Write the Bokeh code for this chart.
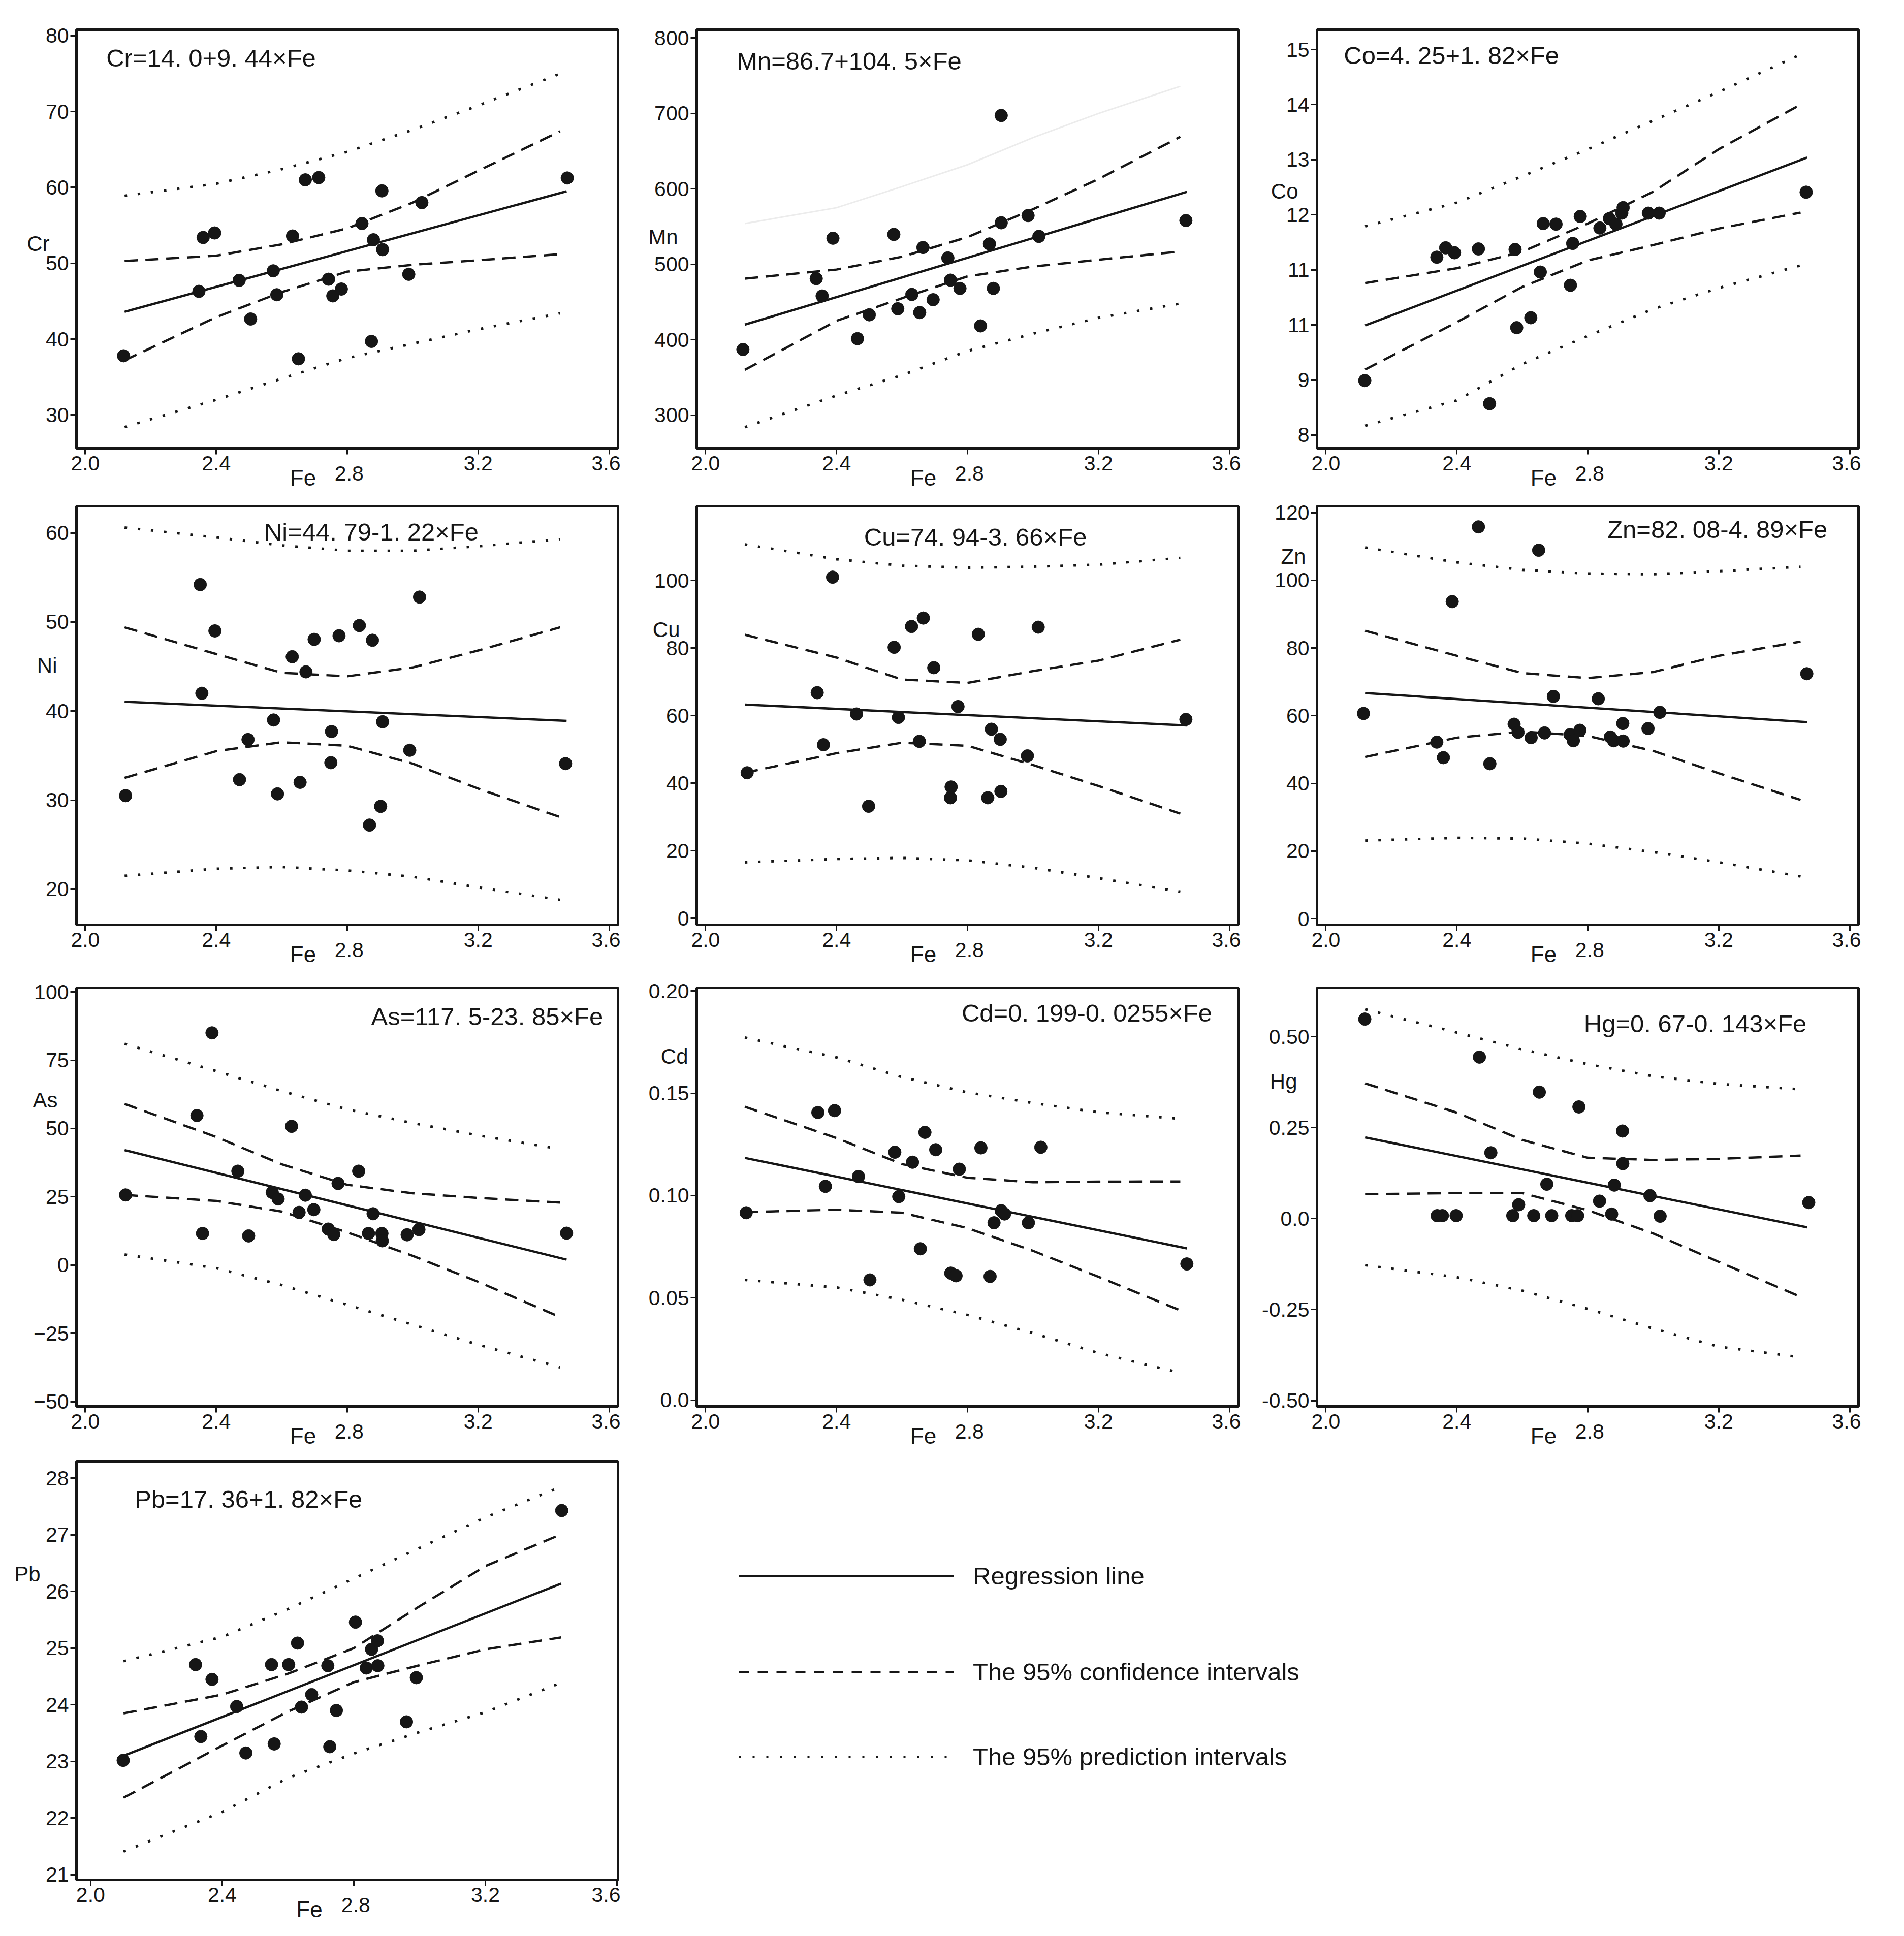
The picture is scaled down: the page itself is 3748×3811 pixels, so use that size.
from bokeh.plotting import figure
from bokeh.layouts import column, row
from bokeh.models import Range1d, FixedTicker, Legend, LegendItem, LinearAxis, Label
from bokeh.embed import file_html
from bokeh.resources import INLINE

FONT = "Liberation Sans"
INK = "#161616"
NAN = float("nan")

# ---------------- data ----------------
CURVE_FE = [2.12, 2.40, 2.60, 2.80, 3.00, 3.20, 3.45]
REG_FE = [2.12, 3.47]
PB_CURVE_FE = [2.10, 2.40, 2.60, 2.80, 3.00, 3.20, 3.43]
PB_REG_FE = [2.10, 3.43]
X_TICKS = [2.0, 2.4, 2.8, 3.2, 3.6]

FE_CR = [2.117, 2.347, 2.360, 2.395, 2.470, 2.505, 2.574, 2.585, 2.633, 2.651, 2.672, 2.713,
         2.743, 2.756, 2.782, 2.845, 2.874, 2.880, 2.906, 2.908, 2.988, 3.028, 3.472]
CR = [37.8, 46.3, 53.4, 54.0, 47.75, 42.65, 49.0, 45.85, 53.6, 37.4, 61.0, 61.3,
      47.9, 45.7, 46.6, 55.25, 39.7, 53.1, 59.55, 51.8, 48.55, 58.0, 61.25]
CR_REG = [43.6, 59.5]
CR_CI_UP = [50.3, 51.0, 52.5, 54.6, 58.0, 62.2, 67.4]
CR_CI_LO = [37.2, 42.9, 46.2, 48.9, 49.8, 50.4, 51.2]
CR_PI_UP = [58.9, 60.5, 62.4, 64.7, 67.6, 70.8, 75.0]
CR_PI_LO = [28.4, 32.0, 34.8, 37.5, 39.4, 41.3, 43.4]

FE_MN = [2.114, 2.338, 2.356, 2.389, 2.464, 2.500, 2.575, 2.587, 2.630, 2.654, 2.664, 2.695,
         2.740, 2.748, 2.777, 2.840, 2.867, 2.879, 2.903, 2.903, 2.985, 3.018, 3.467]
MN = [387, 481, 458, 534.6, 401.4, 433, 539.6, 441, 460, 436, 522.3, 453,
      508.4, 479, 468, 418.3, 527, 468, 697.3, 555, 564.6, 537, 558]
MN_REG = [420, 596]
MN_CI_UP = [481, 493, 510, 536, 573, 613, 669]
MN_CI_LO = [360, 425, 455, 484, 497, 506, 517]
MN_PI_UP = [554, 575, 603, 632, 668, 700, 736]
MN_PI_LO = [284, 326, 353, 385, 408, 429, 448]

FE_CO = [2.119, 2.339, 2.366, 2.393, 2.466, 2.500, 2.578, 2.583, 2.626, 2.655, 2.664, 2.703,
         2.747, 2.754, 2.777, 2.837, 2.866, 2.886, 2.904, 2.908, 2.985, 3.018, 3.467]
CO = [8.99, 11.23, 11.40, 11.31, 11.38, 8.57, 11.37, 9.95, 10.13, 10.96, 11.84, 11.83,
      10.72, 11.48, 11.97, 11.76, 11.93, 11.83, 12.03, 12.13, 12.03, 12.03, 12.41]
CO_REG = [9.99, 13.04]
CO_CI_UP = [10.76, 11.03, 11.33, 11.84, 12.42, 13.19, 14.0]
CO_CI_LO = [9.19, 10.05, 10.69, 11.17, 11.45, 11.75, 12.04]
CO_PI_UP = [11.79, 12.22, 12.70, 13.19, 13.71, 14.23, 14.91]
CO_PI_LO = [8.17, 8.63, 9.29, 9.80, 10.29, 10.67, 11.08]

FE_NI = [2.123, 2.351, 2.356, 2.396, 2.471, 2.497, 2.575, 2.587, 2.632, 2.656, 2.674, 2.699,
         2.752, 2.750, 2.775, 2.837, 2.868, 2.877, 2.902, 2.908, 2.991, 3.021, 3.467]
NI = [30.5, 54.2, 42.0, 49.0, 32.3, 36.8, 39.0, 30.7, 46.1, 32.0, 44.4, 48.05,
      37.7, 34.2, 48.45, 49.6, 27.2, 47.95, 29.3, 38.8, 35.6, 52.8, 34.1]
NI_REG = [41.05, 38.9]
NI_CI_UP = [49.4, 46.4, 44.3, 43.9, 44.9, 46.8, 49.4]
NI_CI_LO = [32.5, 35.5, 36.5, 36.1, 34.1, 31.3, 28.1]
NI_PI_UP = [60.6, 59.5, 58.6, 58.0, 58.0, 58.5, 59.3]
NI_PI_LO = [21.5, 22.3, 22.5, 22.1, 21.4, 20.2, 18.8]

FE_CU = [2.127, 2.341, 2.360, 2.388, 2.461, 2.498, 2.576, 2.589, 2.629, 2.653, 2.665, 2.697,
         2.748, 2.750, 2.771, 2.833, 2.862, 2.873, 2.900, 2.902, 2.983, 3.016, 3.467]
CU = [43.1, 66.8, 51.4, 101.0, 60.5, 33.2, 80.25, 59.5, 86.4, 52.4, 88.9, 74.2,
      35.7, 38.9, 62.7, 84.1, 35.7, 56.0, 53.0, 37.6, 48.1, 86.2, 58.9]
CU_REG = [63.3, 57.1]
CU_CI_UP = [83.95, 77.2, 70.7, 69.7, 73.2, 76.3, 82.5]
CU_CI_LO = [43.1, 48.9, 52.0, 51.1, 45.4, 39.2, 31.0]
CU_PI_UP = [110.7, 106.3, 104.4, 103.8, 104.1, 104.7, 106.7]
CU_PI_LO = [16.6, 17.6, 17.9, 17.2, 15.0, 11.9, 7.9]

FE_ZN = [2.115, 2.339, 2.359, 2.386, 2.466, 2.501, 2.575, 2.587, 2.627, 2.650, 2.668, 2.695,
         2.746, 2.756, 2.776, 2.832, 2.869, 2.879, 2.907, 2.908, 2.984, 3.020, 3.469]
ZN = [60.65, 52.2, 47.6, 93.7, 115.8, 45.8, 57.5, 55.1, 53.5, 108.9, 54.9, 65.7,
      54.4, 52.6, 55.7, 65.0, 53.7, 52.6, 57.7, 52.5, 56.2, 61.0, 72.4]
ZN_REG = [66.7, 58.1]
ZN_CI_UP = [85.1, 77.7, 72.6, 71.1, 72.9, 77.7, 81.9]
ZN_CI_LO = [47.8, 53.5, 55.3, 54.0, 49.6, 43.0, 35.1]
ZN_PI_UP = [109.7, 105.3, 103.1, 102.0, 101.8, 102.7, 104.0]
ZN_PI_LO = [23.1, 23.9, 23.7, 22.2, 19.7, 16.7, 12.5]

FE_AS = [2.123, 2.341, 2.358, 2.387, 2.466, 2.499, 2.571, 2.589, 2.630, 2.653, 2.672, 2.698,
         2.742, 2.759, 2.772, 2.835, 2.865, 2.879, 2.906, 2.907, 2.983, 3.019, 3.470]
AS = [25.7, 54.75, 11.6, 85.0, 34.4, 10.7, 26.6, 24.2, 50.8, 19.3, 25.6, 20.3,
      13.2, 11.2, 29.9, 34.4, 11.6, 18.8, 11.6, 8.9, 11.1, 13.0, 11.7]
AS_REG = [42.1, 2.0]
AS_CI_UP = [59.0, 46.9, 36.9, 29.4, 26.3, 24.6, 22.9]
AS_CI_LO = [25.7, 23.5, 19.6, 12.0, 3.4, -6.1, -19.0]
AS_PI_UP = [81.0, 71.0, 63.7, 57.0, 52.0, 47.5, 42.5]
AS_PI_LO = [3.9, -1.1, -7.3, -14.5, -21.8, -29.1, -37.4]

FE_CD = [2.124, 2.343, 2.366, 2.394, 2.467, 2.502, 2.578, 2.590, 2.632, 2.656, 2.670, 2.703,
         2.749, 2.765, 2.775, 2.841, 2.869, 2.881, 2.903, 2.913, 2.986, 3.024, 3.470]
CD = [0.0916, 0.1406, 0.1045, 0.1415, 0.1093, 0.0588, 0.1212, 0.0995, 0.1163, 0.0740, 0.1309, 0.1224,
      0.0621, 0.0608, 0.1129, 0.1233, 0.0605, 0.0867, 0.0926, 0.0910, 0.0867, 0.1236, 0.0666]
CD_REG = [0.1184, 0.0742]
CD_CI_UP = [0.1434, 0.1281, 0.1154, 0.1087, 0.1065, 0.1068, 0.1069]
CD_CI_LO = [0.0919, 0.0931, 0.0916, 0.0841, 0.0730, 0.0603, 0.0439]
CD_PI_UP = [0.1772, 0.1675, 0.1579, 0.1504, 0.1452, 0.1407, 0.1375]
CD_PI_LO = [0.0588, 0.0551, 0.0491, 0.0417, 0.0328, 0.0231, 0.0134]

FE_HG = [2.119, 2.340, 2.356, 2.398, 2.469, 2.504, 2.571, 2.589, 2.635, 2.652, 2.675, 2.690,
         2.751, 2.769, 2.773, 2.836, 2.873, 2.881, 2.906, 2.907, 2.990, 3.021, 3.475]
HG = [0.548, 0.008, 0.008, 0.008, 0.4436, 0.1808, 0.008, 0.038, 0.008, 0.3474, 0.0945, 0.008,
      0.008, 0.008, 0.3068, 0.048, 0.0124, 0.092, 0.2405, 0.151, 0.063, 0.0066, 0.044]
HG_REG = [0.223, -0.024]
HG_CI_UP = [0.3715, 0.291, 0.216, 0.167, 0.161, 0.164, 0.173]
HG_CI_LO = [0.067, 0.070, 0.070, 0.023, -0.041, -0.119, -0.215]
HG_PI_UP = [0.575, 0.511, 0.465, 0.424, 0.391, 0.370, 0.355]
HG_PI_LO = [-0.128, -0.161, -0.198, -0.248, -0.302, -0.352, -0.381]

FE_PB = [2.099, 2.319, 2.335, 2.369, 2.444, 2.472, 2.550, 2.558, 2.602, 2.629, 2.641, 2.672,
         2.721, 2.727, 2.747, 2.805, 2.838, 2.854, 2.872, 2.873, 2.960, 2.990, 3.432]
PB = [23.02, 24.71, 23.44, 24.45, 23.97, 23.15, 24.71, 23.31, 24.71, 25.09, 23.96, 24.18,
      24.69, 23.26, 23.90, 25.46, 24.65, 24.98, 25.13, 24.69, 23.70, 24.48, 27.43]
PB_REG = [23.10, 26.14]
PB_CI_UP = [23.85, 24.18, 24.55, 25.0, 25.74, 26.45, 27.01]
PB_CI_LO = [22.36, 23.28, 23.88, 24.40, 24.70, 24.98, 25.19]
PB_PI_UP = [24.77, 25.20, 25.69, 26.23, 26.77, 27.31, 27.85]
PB_PI_LO = [21.41, 22.11, 22.71, 23.14, 23.52, 23.87, 24.39]

LEGEND_LABELS = ["Regression line", "The 95% confidence intervals", "The 95% prediction intervals"]

# ---------------- panel options ----------------
XR = (1.973, 3.627)
PANELS = [
    dict(name="Cr", eq="Cr=14. 0+9. 44×Fe", fe=FE_CR, y=CR, reg=CR_REG, ciu=CR_CI_UP, cil=CR_CI_LO,
         piu=CR_PI_UP, pil=CR_PI_LO, yr=(25.6, 80.8), ticks=[30, 40, 50, 60, 70, 80], ov={},
         eq_at=(2.064, 77.1), name_y=52.6, name_so=-11),
    dict(name="Mn", eq="Mn=86.7+104. 5×Fe", fe=FE_MN, y=MN, reg=MN_REG, ciu=MN_CI_UP, cil=MN_CI_LO,
         piu=MN_PI_UP, pil=MN_PI_LO, yr=(256, 811), ticks=[300, 400, 500, 600, 700, 800], ov={},
         eq_at=(2.095, 769.6), name_y=536, name_so=-49, faint_pi=True),
    dict(name="Co", eq="Co=4. 25+1. 82×Fe", fe=FE_CO, y=CO, reg=CO_REG, ciu=CO_CI_UP, cil=CO_CI_LO,
         piu=CO_PI_UP, pil=CO_PI_LO, yr=(7.76, 15.36), ticks=[8, 9, 10, 11, 12, 13, 14, 15], ov={10: "11"},
         eq_at=(2.055, 14.89), name_y=12.43, name_so=-27),
    dict(name="Ni", eq="Ni=44. 79-1. 22×Fe", fe=FE_NI, y=NI, reg=NI_REG, ciu=NI_CI_UP, cil=NI_CI_LO,
         piu=NI_PI_UP, pil=NI_PI_LO, yr=(16.0, 63.0), ticks=[20, 30, 40, 50, 60], ov={},
         eq_at=(2.546, 60.1), name_y=45.15, name_so=-26),
    dict(name="Cu", eq="Cu=74. 94-3. 66×Fe", fe=FE_CU, y=CU, reg=CU_REG, ciu=CU_CI_UP, cil=CU_CI_LO,
         piu=CU_PI_UP, pil=CU_PI_LO, yr=(-1.9, 122.0), ticks=[0, 20, 40, 60, 80, 100], ov={},
         eq_at=(2.484, 112.9), name_y=85.4, name_so=-53),
    dict(name="Zn", eq="Zn=82. 08-4. 89×Fe", fe=FE_ZN, y=ZN, reg=ZN_REG, ciu=ZN_CI_UP, cil=ZN_CI_LO,
         piu=ZN_PI_UP, pil=ZN_PI_LO, yr=(-1.8, 121.9), ticks=[0, 20, 40, 60, 80, 100, 120], ov={},
         eq_at=(2.860, 115.0), name_y=107.0, name_so=-64),
    dict(name="As", eq="As=117. 5-23. 85×Fe", fe=FE_AS, y=AS, reg=AS_REG, ciu=AS_CI_UP, cil=AS_CI_LO,
         piu=AS_PI_UP, pil=AS_PI_LO, yr=(-51.7, 101.5), ticks=[-50, -25, 0, 25, 50, 75, 100], ov={},
         eq_at=(2.873, 91.0), name_y=60.5, name_so=-51),
    dict(name="Cd", eq="Cd=0. 199-0. 0255×Fe", fe=FE_CD, y=CD, reg=CD_REG, ciu=CD_CI_UP, cil=CD_CI_LO,
         piu=CD_PI_UP, pil=CD_PI_LO, yr=(-0.003, 0.2015), ticks=[0, 0.05, 0.1, 0.15, 0.2],
         ov={0: "0.0", 0.05: "0.05", 0.1: "0.10", 0.15: "0.15", 0.2: "0.20"},
         eq_at=(2.782, 0.1891), name_y=0.168, name_so=-81),
    dict(name="Hg", eq="Hg=0. 67-0. 143×Fe", fe=FE_HG, y=HG, reg=HG_REG, ciu=HG_CI_UP, cil=HG_CI_LO,
         piu=HG_PI_UP, pil=HG_PI_LO, yr=(-0.516, 0.634), ticks=[-0.5, -0.25, 0, 0.25, 0.5],
         ov={-0.5: "-0.50", -0.25: "-0.25", 0: "0.0", 0.25: "0.25", 0.5: "0.50"},
         eq_at=(2.788, 0.536), name_y=0.377, name_so=-72),
    dict(name="Pb", eq="Pb=17. 36+1. 82×Fe", fe=FE_PB, y=PB, reg=PB_REG, ciu=PB_CI_UP, cil=PB_CI_LO,
         piu=PB_PI_UP, pil=PB_PI_LO, yr=(20.91, 28.30), ticks=[21, 22, 23, 24, 25, 26, 27, 28], ov={},
         eq_at=(2.134, 27.63), name_y=26.31, name_so=7, xr=(1.957, 3.603),
         cfe=PB_CURVE_FE, rfe=PB_REG_FE),
]

FIG_W = 1221
FRAME_H = 824
BORDERS = [(58, 100), (14, 100), (24, 100), (8, 95)]  # (top, bottom) per row

LW = 4.5
DASH = "26 15"
DOT = "5 21"


def text_axis(ticks, labels, standoff, size):
    return LinearAxis(ticker=FixedTicker(ticks=ticks), major_label_overrides=dict(zip(ticks, labels)),
                      major_tick_out=0, major_tick_in=0, minor_tick_out=0, minor_tick_in=0,
                      axis_line_color=None, major_tick_line_color=None, minor_tick_line_color=None,
                      major_label_standoff=standoff, major_label_text_font=FONT,
                      major_label_text_font_size=size, major_label_text_color=INK)


def make_panel(cfg, tb, bb):
    xr = cfg.get("xr", XR)
    cfe = cfg.get("cfe", CURVE_FE)
    rfe = cfg.get("rfe", REG_FE)
    p = figure(width=FIG_W, height=tb + FRAME_H + bb,
               x_range=Range1d(*xr), y_range=Range1d(*cfg["yr"]),
               output_backend="svg", toolbar_location=None,
               min_border_left=150, min_border_right=5, min_border_top=tb, min_border_bottom=bb)
    p.grid.visible = False
    p.background_fill_color = "white"
    p.border_fill_color = "white"
    p.outline_line_color = INK
    p.outline_line_width = 5
    for ax in (p.xaxis[0], p.yaxis[0]):
        ax.axis_line_color = INK
        ax.axis_line_width = 4
        ax.major_tick_line_color = INK
        ax.major_tick_line_width = 3
        ax.major_tick_out = 12
        ax.major_tick_in = 0
        ax.minor_tick_out = 0
        ax.minor_tick_in = 0
        ax.minor_tick_line_color = None
        ax.major_label_text_font = FONT
        ax.major_label_text_font_size = "41px"
        ax.major_label_text_color = INK
        ax.major_label_standoff = 3
    p.xaxis.ticker = FixedTicker(ticks=X_TICKS)
    p.xaxis.major_label_overrides = {2.0: "2.0", 2.4: "2.4", 2.8: "", 3.2: "3.2", 3.6: "3.6"}
    p.yaxis.ticker = FixedTicker(ticks=cfg["ticks"])
    if cfg["ov"]:
        p.yaxis.major_label_overrides = cfg["ov"]

    # extra text-only axes: the lowered "2.8", the "Fe" title, the horizontal y name
    p.add_layout(text_axis([2.806], ["2.8"], -11, "41px"), "below")
    p.add_layout(text_axis([2.665], ["Fe"], -33, "44px"), "below")
    p.add_layout(text_axis([cfg["name_y"]], [cfg["name"]], cfg["name_so"], "42px"), "left")

    # intervals, regression, samples
    if cfg.get("faint_pi"):
        p.line(cfe, cfg["piu"], line_width=3, color="#ececec")
    else:
        p.line(cfe, cfg["piu"], line_width=5, color=INK, line_dash=DOT)
    p.line(cfe, cfg["pil"], line_width=5, color=INK, line_dash=DOT)
    p.line(cfe, cfg["ciu"], line_width=LW, color=INK, line_dash=DASH)
    p.line(cfe, cfg["cil"], line_width=LW, color=INK, line_dash=DASH)
    p.line(rfe, cfg["reg"], line_width=LW, color=INK)
    p.scatter(cfg["fe"], cfg["y"], size=25, color=INK, marker="circle")

    ex, ey = cfg["eq_at"]
    p.add_layout(Label(x=ex, y=ey, text=cfg["eq"], text_align="left", text_baseline="middle",
                       text_font=FONT, text_font_size="49px", text_color=INK))
    return p


figs = []
for i, cfg in enumerate(PANELS):
    tb, bb = BORDERS[i // 3]
    figs.append(make_panel(cfg, tb, bb))

# legend figure
tb4, bb4 = BORDERS[3]
H4 = tb4 + FRAME_H + bb4
leg = figure(width=2 * FIG_W, height=H4, x_range=Range1d(0, 1), y_range=Range1d(0, 1),
             output_backend="svg", toolbar_location=None, min_border=0,
             x_axis_location=None, y_axis_location=None)
leg.grid.visible = False
leg.outline_line_color = None
leg.background_fill_color = "white"
leg.border_fill_color = "white"
r_reg = leg.line(x=[NAN, NAN], y=[NAN, NAN], line_width=LW, color=INK)
r_ci = leg.line(x=[NAN, NAN], y=[NAN, NAN], line_width=LW, color=INK, line_dash="20 17")
r_pi = leg.line(x=[NAN, NAN], y=[NAN, NAN], line_width=5, color=INK, line_dash="4 23")
for lab, r, by in zip(LEGEND_LABELS, [r_reg, r_ci, r_pi], [568, 379, 212]):
    lg = Legend(items=[LegendItem(label=lab, renderers=[r])], location=(233, by),
                glyph_width=424, glyph_height=60, label_height=60, label_standoff=37,
                padding=0, margin=0, border_line_color=None, background_fill_alpha=0,
                label_text_font=FONT, label_text_font_size="49px", label_text_color=INK)
    leg.add_layout(lg)

layout = column(row(figs[0], figs[1], figs[2]),
                row(figs[3], figs[4], figs[5]),
                row(figs[6], figs[7], figs[8]),
                row(figs[9], leg))

open("out.html", "w").write(file_html(layout, INLINE))
